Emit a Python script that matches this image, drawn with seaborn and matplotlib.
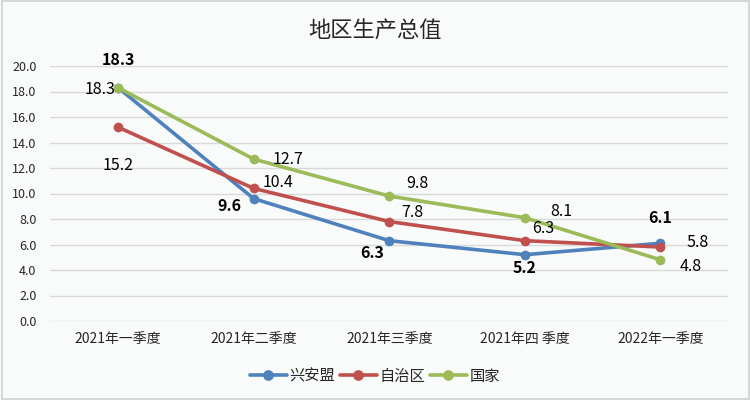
import numpy as np
import pandas as pd
import matplotlib
matplotlib.use("Agg")
import matplotlib.pyplot as plt
import seaborn as sns
from matplotlib.patches import Rectangle

# ---------------- data ----------------
quarters = ["2021年一季度", "2021年二季度", "2021年三季度", "2021年四 季度", "2022年一季度"]
series_names = ["兴安盟", "自治区", "国家"]
xam = [18.3, 9.6, 6.3, 5.2, 6.1]
zzq = [15.2, 10.4, 7.8, 6.3, 5.8]
guojia = [18.3, 12.7, 9.8, 8.1, 4.8]
colors = ["#4f81bd", "#c0504d", "#9bbb59"]

# label offsets in pixels (dx, dy) for each series point
offsets = {
    "兴安盟": [(0, 28), (-24, -7), (-17, -12), (0, -13), (0, 25)],
    "自治区": [(0, -38), (24, 6), (23, 9), (18, 12), (37, 5)],
    "国家": [(-18, -2), (34, 0), (28, 13), (36, 6), (30, -7)],
}

df = pd.DataFrame({
    "季度": quarters * 3,
    "值": xam + zzq + guojia,
    "系列": [n for n in series_names for _ in quarters],
})

# ---------------- style ----------------
sns.set_theme(style="white")
plt.rcParams["font.family"] = ["Noto Sans CJK SC", "DejaVu Sans"]
plt.rcParams["axes.unicode_minus"] = False

bg = "#f9fafa"
fig = plt.figure(figsize=(7.5, 4), dpi=100, facecolor=bg)
ax = fig.add_axes([0.067, 0.1975, 0.904, 0.6375])
ax.set_facecolor(bg)

sns.lineplot(
    data=df, x="季度", y="值", hue="系列", hue_order=series_names,
    palette=colors, marker="o", markersize=7, markeredgewidth=0,
    linewidth=2.6, sort=False, ax=ax, legend=True,
)

ax.set_ylim(0, 20)
ax.set_xlim(-0.5, len(quarters) - 0.5)
ax.set_yticks(np.arange(0, 20.1, 2))
ax.set_yticklabels([f"{v:.1f}" for v in np.arange(0, 20.1, 2)], fontsize=9)
ax.tick_params(axis="x", labelsize=10, pad=8, length=0)
ax.tick_params(axis="y", pad=10, length=0)
ax.grid(axis="y", color="#d9d9d9", linewidth=1)
ax.set_axisbelow(True)
for s in ax.spines.values():
    s.set_visible(False)
ax.set_xlabel("")
ax.set_ylabel("")

# data labels
for name, vals in zip(series_names, [xam, zzq, guojia]):
    for i, v in enumerate(vals):
        ax.annotate(
            f"{v:.1f}", (i, v), xytext=offsets[name][i], textcoords="offset pixels",
            ha="center", va="center", fontsize=11.5, color="black",
            fontweight="bold" if name == "兴安盟" else "normal",
        )

ax.legend(
    loc="center", bbox_to_anchor=(0.5, 0.06), bbox_transform=fig.transFigure,
    ncol=3, frameon=False, fontsize=11, handlelength=2.4, columnspacing=0.3,
    handletextpad=0.2, markerscale=1.1,
)

fig.text(0.5, 0.925, "地区生产总值", ha="center", va="center", fontsize=16)

fig.patches.append(Rectangle((0.002, 0.003), 0.996, 0.994, transform=fig.transFigure,
                             fill=False, edgecolor="#d0d0d0", linewidth=1.2))

fig.savefig("out.png", dpi=100, facecolor=bg)
